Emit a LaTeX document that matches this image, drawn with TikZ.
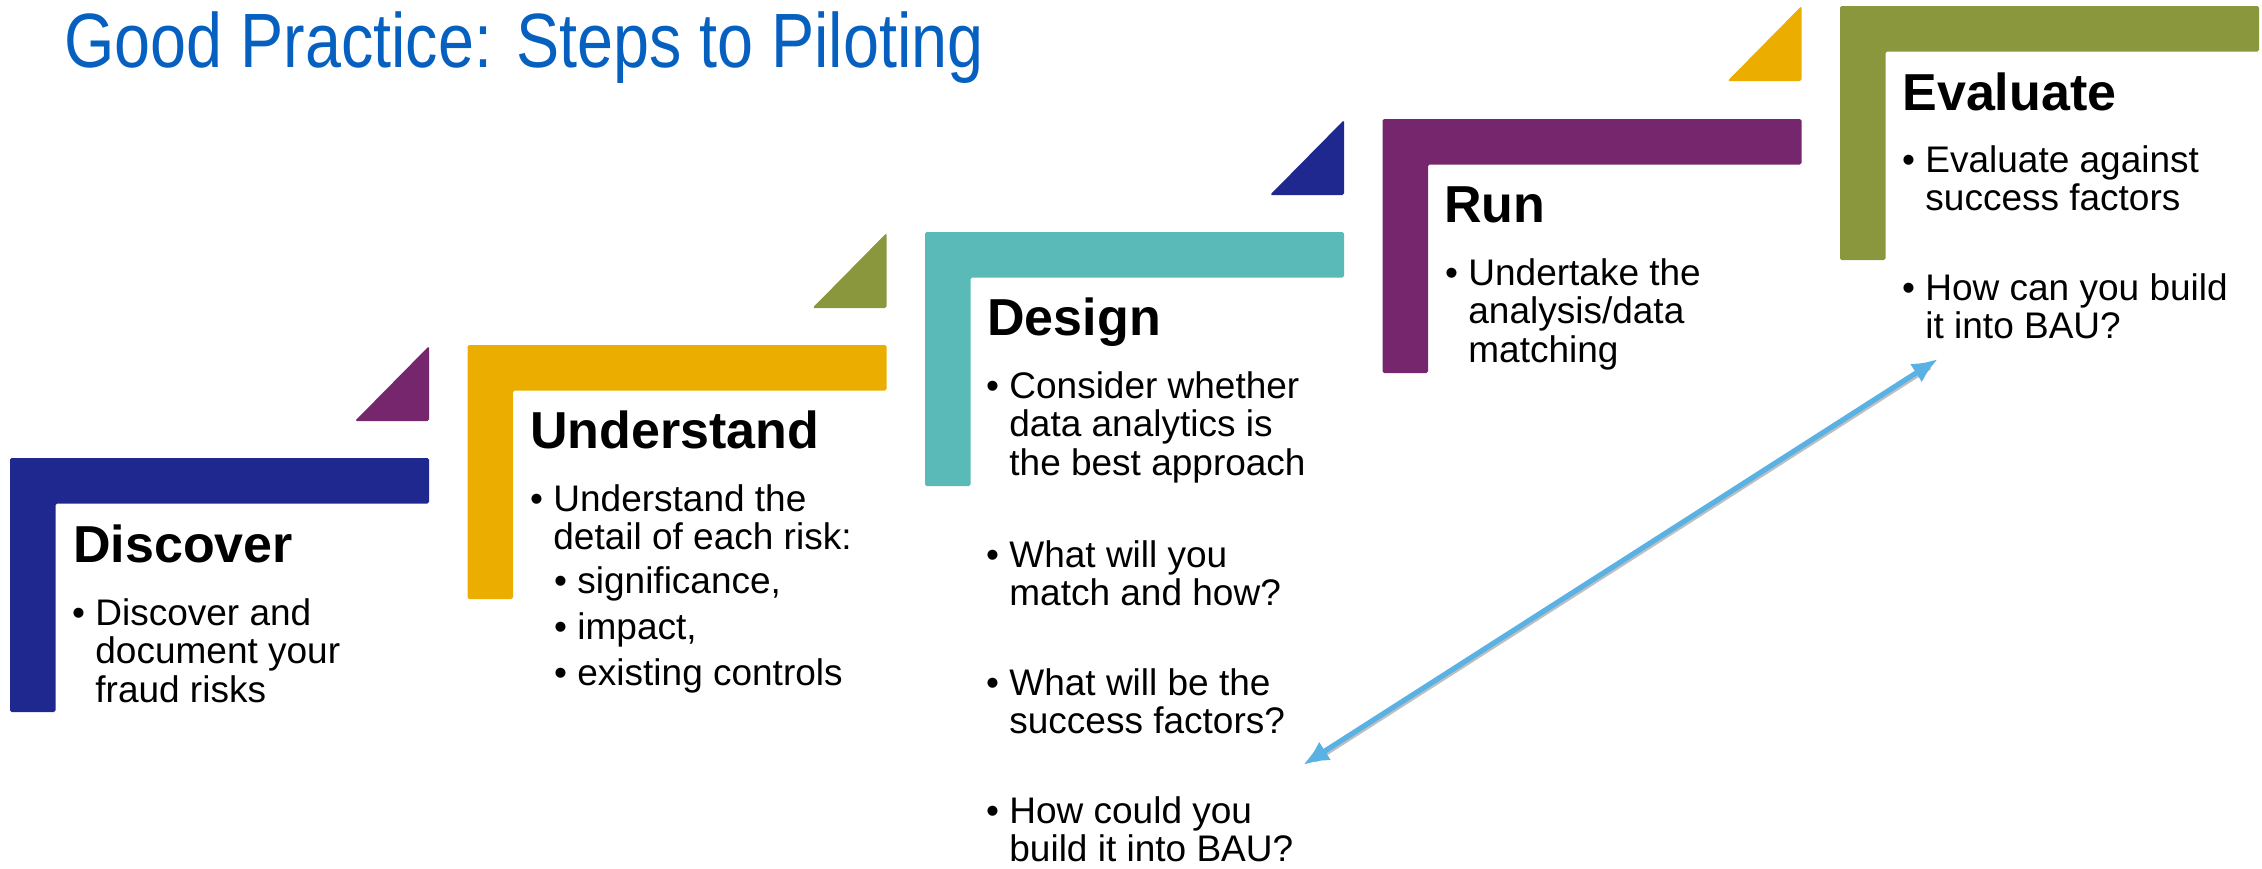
\documentclass[tikz,border=0pt]{standalone}
\usepackage{fontspec}
\setmainfont{Liberation Sans}
\newfontfamily\titlefont[FakeStretch=0.84]{Liberation Sans}
\usetikzlibrary{arrows.meta}
\definecolor{cnavy}{RGB}{30,40,142}
\definecolor{cgold}{RGB}{235,174,0}
\definecolor{cteal}{RGB}{90,186,183}
\definecolor{cpurple}{RGB}{118,38,108}
\definecolor{colive}{RGB}{138,151,60}
\definecolor{ctitle}{RGB}{6,96,192}
\definecolor{carrow}{RGB}{90,178,228}
\newcommand\bul{\llap{\textbullet\hspace{5.2pt}}}
\newcommand\Lin[1]{\hbox{#1}}
\newcommand\lines[2][19.25pt]{\vtop{\baselineskip=#1\relax\lineskiplimit=-20pt #2}}
\newcommand\stepL[3]{\fill[#3, rounded corners=0.8pt] (#1,#2) -- ++(419,0) -- ++(0,45.5) -- ++(-373.5,0) -- ++(0,208.5) -- ++(-45.5,0) -- cycle;}
\newcommand\stepT[3]{\fill[#3, rounded corners=0.8pt] (#1,#2) -- ++(0,75) -- ++(-74,0) -- cycle;}
\begin{document}
\begin{tikzpicture}[x=0.5pt,y=-0.5pt,
  steptitle/.style={anchor=base west, inner sep=0pt, font=\bfseries\fontsize{26pt}{30pt}\selectfont},
  stepbody/.style={anchor=base west, inner sep=0pt, font=\fontsize{18.5pt}{19.25pt}\selectfont},
  linktip/.tip={Latex[length=13pt,width=11pt]}]
\useasboundingbox (0,0) rectangle (2262,868);
% L shapes
\stepL{10}{458}{cnavy}
\stepL{467.5}{345}{cgold}
\stepL{925}{232}{cteal}
\stepL{1382.5}{119}{cpurple}
\stepL{1840}{6}{colive}
% triangles
\stepT{429}{346}{cpurple}
\stepT{886.5}{233}{colive}
\stepT{1344}{120}{cnavy}
\stepT{1801.5}{6}{cgold}
% heading
\node[anchor=base west, inner sep=0pt, text=ctitle, font=\titlefont\fontsize{38.5pt}{40pt}\selectfont] (title) at (64,67) {Good Practice: Steps to Piloting};
% Discover
\node[steptitle] (t1) at (73,562) {Discover};
\node[stepbody] (b1) at (95,625) {\lines{\Lin{\bul Discover and}\Lin{document your}\Lin{fraud risks}}};
% Understand
\node[steptitle] (t2) at (530,448) {Understand};
\node[stepbody] (b2) at (553,511) {\lines{\Lin{\bul Understand the}\Lin{detail of each risk:}}};
\node[stepbody] (b2s) at (577,593) {\lines[23pt]{\Lin{\bul significance,}\Lin{\bul impact,}\Lin{\bul existing controls}}};
% Design
\node[steptitle] (t3) at (987,335) {Design};
\node[stepbody] (b3a) at (1009,398) {\lines{\Lin{\bul Consider whether}\Lin{data analytics is}\Lin{the best approach}}};
\node[stepbody] (b3b) at (1009,567) {\lines{\Lin{\bul What will you}\Lin{match and how?}}};
\node[stepbody] (b3c) at (1009,695) {\lines{\Lin{\bul What will be the}\Lin{success factors?}}};
\node[stepbody] (b3d) at (1009,823) {\lines{\Lin{\bul How could you}\Lin{build it into BAU?}}};
% Run
\node[steptitle] (t4) at (1444,222) {Run};
\node[stepbody] (b4) at (1468,285) {\lines{\Lin{\bul Undertake the}\Lin{analysis/data}\Lin{matching}}};
% Evaluate
\node[steptitle] (t5) at (1902,110) {Evaluate};
\node[stepbody] (b5a) at (1925,172) {\lines{\Lin{\bul Evaluate against}\Lin{success factors}}};
\node[stepbody] (b5b) at (1925,300) {\lines{\Lin{\bul How can you build}\Lin{it into BAU?}}};
% arrow
\coordinate (arrA) at (1303,765);
\coordinate (arrB) at (1938,359);
\draw[black!25, line width=2.6pt, shorten <=6pt, shorten >=6pt, transform canvas={xshift=0.8pt,yshift=-0.8pt}] (arrA) -- (arrB);
\draw[carrow, line width=2.6pt, linktip-linktip] (arrA) -- (arrB);
\end{tikzpicture}
\end{document}
